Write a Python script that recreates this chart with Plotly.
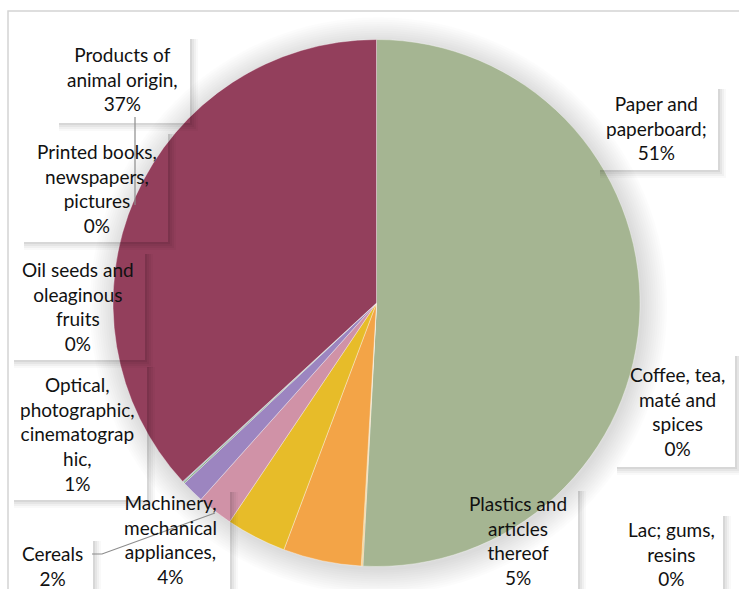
import plotly.graph_objects as go

W, H = 739, 589

# ---- data ----
categories = ["Paper and paperboard", "Coffee, tea, maté and spices", "Lac; gums, resins",
              "Plastics and articles thereof", "Machinery, mechanical appliances", "Cereals",
              "Optical, photographic, cinematographic", "Oil seeds and oleaginous fruits",
              "Printed books, newspapers, pictures", "Products of animal origin"]
values = [50.9, 0.05, 0.05, 4.8, 3.7, 2.2, 1.4, 0.1, 0.05, 36.9]
label_lines = ["Paper and<br>paperboard;", "Coffee, tea,<br>maté and<br>spices", "Lac; gums,<br>resins",
               "Plastics and<br>articles<br>thereof", "Machinery,<br>mechanical<br>appliances,", "Cereals",
               "Optical,<br>photographic,<br>cinematograp<br>hic,", "Oil seeds and<br>oleaginous<br>fruits",
               "Printed books,<br>newspapers,<br>pictures", "Products of<br>animal origin,"]
colors = ["#A5B592", "#F3A447", "#E7BC29", "#F3A447", "#E7BC29", "#D092A7",
          "#9C85C0", "#8FB08C", "#809EC2", "#933F5C"]

# label layout (pixel centres and box extents)
label_pos = [(656, 128), (677, 411), (671, 554), (518, 540), (170, 539), (52, 566),
             (77, 434), (78, 306), (97, 188), (122, 79)]
boxes = [(596, 85, 718, 170), (613, 352, 735, 467), (615, 512, 723, 600), (455, 487, 578, 600),
         (113, 488, 230, 600), (15, 537, 93, 600), (10, 363, 147, 500), (10, 250, 145, 360),
         (20, 130, 168, 242), (55, 35, 190, 123)]

def px(x):
    return x / W

def py(y):
    return 1 - y / H

cx, cy, r = 376.5, 303, 263.5

fig = go.Figure(go.Pie(
    labels=categories, values=values, sort=False, direction="clockwise", rotation=0,
    marker=dict(colors=colors, line=dict(color="rgba(255,255,255,0.6)", width=0.6)),
    textinfo="none", hoverinfo="label+percent", showlegend=False,
    domain=dict(x=[px(cx - r), px(cx + r)], y=[py(cy + r), py(cy - r)]),
))

shapes = []
# chart border
shapes.append(dict(type="rect", xref="paper", yref="paper", x0=px(8), y0=py(620), x1=px(770), y1=py(11),
                   line=dict(color="#D4D4D4", width=1.5), fillcolor="rgba(0,0,0,0)", layer="below"))
# soft pie shadow
for i in range(12):
    rr = r + 1 + i * 2.2
    ox, oy = 2, 3
    shapes.append(dict(type="circle", xref="paper", yref="paper",
                       x0=px(cx + ox - rr), x1=px(cx + ox + rr), y0=py(cy + oy + rr), y1=py(cy + oy - rr),
                       line=dict(width=0), fillcolor="rgba(0,0,0,0.012)", layer="below"))
# label box shadows
for (x0, y0, x1, y1) in boxes:
    for k, op in [(8, 0.025), (6, 0.035), (4, 0.045), (2, 0.06)]:
        shapes.append(dict(type="rect", xref="paper", yref="paper",
                           x0=px(x1), x1=px(x1 + k), y0=py(y1 + k), y1=py(y0 + 4),
                           line=dict(width=0), fillcolor=f"rgba(0,0,0,{op})", layer="above"))
        shapes.append(dict(type="rect", xref="paper", yref="paper",
                           x0=px(x0 + 4), x1=px(x1), y0=py(y1 + k), y1=py(y1),
                           line=dict(width=0), fillcolor=f"rgba(0,0,0,{op})", layer="above"))
# leader lines
shapes.append(dict(type="line", xref="paper", yref="paper", x0=px(135), x1=px(135), y0=py(117), y1=py(205),
                   line=dict(color="#8C8C8C", width=1.2), layer="above"))
shapes.append(dict(type="path", xref="paper", yref="paper",
                   path=f"M {px(92)},{py(554)} L {px(102)},{py(554)} L {px(215)},{py(513)}",
                   line=dict(color="#8C8C8C", width=1.2), layer="above"))

total = sum(values)
annotations = []
for name, v, (x, y) in zip(label_lines, values, label_pos):
    pct = f"{round(v / total * 100)}%"
    annotations.append(dict(text=f"{name}<br>{pct}", x=px(x), y=py(y), xref="paper", yref="paper",
                            xanchor="center", yanchor="middle", showarrow=False, align="center",
                            font=dict(family="Lato, Carlito, Calibri, sans-serif", size=19, color="#111111")))

fig.update_layout(width=W, height=H, margin=dict(l=0, r=0, t=0, b=0),
                  paper_bgcolor="white", plot_bgcolor="white",
                  shapes=shapes, annotations=annotations)

fig.write_html("out.html", config={"displayModeBar": False},
               post_script="document.body.style.margin='0';document.body.style.overflow='hidden';")
